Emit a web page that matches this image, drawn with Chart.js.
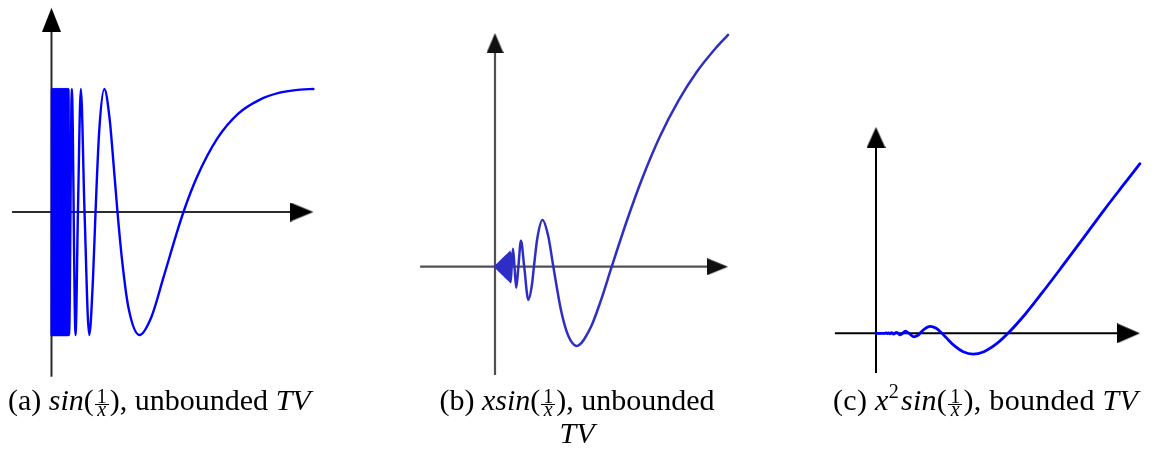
<!DOCTYPE html>
<html>
<head>
<meta charset="utf-8">
<script src="https://cdn.jsdelivr.net/npm/chart.js@4"></script>
<style>
  html, body { margin: 0; padding: 0; background: #fff; }
  body { width: 1154px; height: 452px; position: relative; overflow: hidden; }
  canvas { position: absolute; }
  .cap { position: absolute; font-family: "Liberation Serif", serif; font-size: 30px; line-height: 30px; color: #000; white-space: nowrap; }
  .cap i { font-style: italic; }
  .frac { display: inline-block; vertical-align: -6px; text-align: center; font-size: 20px; margin: 0 1px; }
  .frac span { display: block; padding: 0 2px; }
  .frac .num { line-height: 14px; border-bottom: 1px solid #000; padding-bottom: 1px; }
  .frac .den { line-height: 8px; font-style: italic; }
  .cap sup { font-size: 20px; line-height: 0; vertical-align: 12px; margin-right: 2px; }
</style>
</head>
<body>
<canvas id="plotA" width="340" height="385" style="left:0;top:0"></canvas>
<canvas id="plotB" width="345" height="385" style="left:405px;top:0"></canvas>
<canvas id="plotC" width="334" height="285" style="left:820px;top:100px"></canvas>

<div class="cap" style="left:8px;top:385px">(a) <i>sin</i>(<span class="frac"><span class="num">1</span><span class="den">x</span></span>), unbounded <i>TV</i></div>
<div class="cap" style="left:427px;top:383px;width:300px;text-align:center;line-height:33px">(b) <i>xsin</i>(<span class="frac"><span class="num">1</span><span class="den">x</span></span>), unbounded<br><i>TV</i></div>
<div class="cap" style="left:833px;top:385px;letter-spacing:0.3px">(c) <i>x</i><sup>2</sup><i>sin</i>(<span class="frac"><span class="num">1</span><span class="den">x</span></span>), bounded <i>TV</i></div>

<script>
// (a) sin(1/x): solid band of oscillation near 0, then the last few full waves
const sinX = [0.0003, 0.001, 0.002, 0.003, 0.004, 0.005, 0.006, 0.007, 0.008, 0.009, 0.010,
  0.011, 0.012, 0.013, 0.014, 0.015, 0.016, 0.017, 0.018, 0.019, 0.020, 0.021, 0.022, 0.023,
  0.024, 0.025, 0.026, 0.027, 0.028, 0.029, 0.030, 0.031, 0.032, 0.033, 0.034, 0.035, 0.036,
  0.037, 0.038, 0.039, 0.040, 0.041, 0.0424, 0.0490, 0.0579, 0.0637, 0.0707, 0.0796,
  0.0909, 0.100, 0.1061, 0.115, 0.1273, 0.140, 0.150, 0.159, 0.170, 0.185, 0.2122, 0.240,
  0.270, 0.300, 0.318, 0.350, 0.400, 0.450, 0.500, 0.550, 0.600, 0.631];
const sinY = [-1, 1, -1, 1, -1, 1, -1, 1, -1, 1, -1, 1, -1, 1, -1, 1, -1, 1, -1, 1, -1,
  1, -1, 1, -1, 1, -1, 1, -1, 1, -1, 1, -1, 1, -1, 1, -1, 1, -1, 1, -1, 1, -1,
  1, -1, 0, 1, 0, -1, -0.54, 0, 0.66, 1, 0.76, 0.37, 0, -0.39, -0.77, -1, -0.86, -0.53,
  -0.19, 0, 0.28, 0.60, 0.80, 0.91, 0.97, 0.995, 1];

// (b) x*sin(1/x): oscillations shrink into the origin
const xsinX = [0.0003, 0.001, 0.002, 0.003, 0.004, 0.005, 0.006, 0.007, 0.008, 0.009, 0.010,
  0.011, 0.012, 0.013, 0.014, 0.015, 0.016, 0.017, 0.018, 0.019, 0.020, 0.021, 0.022, 0.023,
  0.024, 0.025, 0.026, 0.027, 0.028, 0.029, 0.030, 0.031, 0.032, 0.033, 0.034, 0.035, 0.036,
  0.037, 0.038, 0.039, 0.040, 0.041, 0.0424, 0.0455, 0.0490, 0.0531, 0.0579, 0.0637,
  0.0707, 0.0796, 0.0909, 0.100, 0.1061, 0.115, 0.1294, 0.145, 0.159, 0.180, 0.200, 0.2225,
  0.260, 0.290, 0.318, 0.360, 0.400, 0.450, 0.500, 0.550, 0.600, 0.635];
const xsinY = [-0.0003, 0.001, -0.002, 0.003, -0.004, 0.005, -0.006, 0.007, -0.008, 0.009,
  -0.010, 0.011, -0.012, 0.013, -0.014, 0.015, -0.016, 0.017, -0.018, 0.019, -0.020, 0.021,
  -0.022, 0.023, -0.024, 0.025, -0.026, 0.027, -0.028, 0.029, -0.030, 0.031, -0.032, 0.033,
  -0.034, 0.035, -0.036, 0.037, -0.038, 0.039, -0.040, 0.041, -0.0424,
  0, 0.049, 0, -0.058, 0, 0.071, 0, -0.091, -0.054, 0, 0.076, 0.128, 0.084, 0, -0.12, -0.19,
  -0.217, -0.168, -0.088, 0, 0.128, 0.239, 0.358, 0.455, 0.534, 0.597, 0.635];

// (c) x^2*sin(1/x): wiggles flatten out near the origin
const x2sinX = [0, 0.020, 0.0255, 0.0277, 0.0303, 0.0335, 0.0374, 0.0424, 0.0455, 0.049,
  0.0531, 0.0579, 0.0637, 0.0707, 0.0796, 0.0909, 0.100, 0.1061, 0.115, 0.130, 0.145, 0.159,
  0.175, 0.190, 0.210, 0.234, 0.260, 0.290, 0.318, 0.360, 0.400, 0.450, 0.500, 0.550, 0.600, 0.636];
const x2sinY = [0, 0, 0.0007, -0.0008, 0.0009, -0.0011, 0.0014, -0.0018, 0, 0.0024, 0,
  -0.0034, 0, 0.005, 0, -0.0083, -0.0054, 0, 0.0088, 0.0167, 0.0122, 0, -0.0165, -0.0307,
  -0.044, -0.0496, -0.0438, -0.0254, 0, 0.046, 0.096, 0.161, 0.227, 0.294, 0.358, 0.404];

// axis extents [from, to] in data units, arrow tip at "to"
const axisXA = [-0.095, 0.631], axisYA = [-1.34, 1.66];
const axisXB = [-0.204, 0.635], axisYB = [-0.297, 0.640];
const axisXC = [-0.099, 0.636], axisYC = [-0.0945, 0.491];

// filled arrow head pointing right, tip sits at the image centre
function arrowHead(len, wid, color) {
    const c = document.createElement('canvas');
    c.width = len * 2;
    c.height = wid;
    const g = c.getContext('2d');
    g.fillStyle = color;
    g.beginPath();
    g.moveTo(0, 0);
    g.lineTo(len, wid / 2);
    g.lineTo(0, wid);
    g.closePath();
    g.fill();
    return c;
}

const toPts = (xs, ys) => xs.map((x, i) => ({ x: x, y: ys[i] }));

function drawPanel(id, p) {
    const cv = document.getElementById(id);
    const w = cv.width, h = cv.height;
    const xArrow = arrowHead(p.arrowX[0], p.arrowX[1], p.arrowColor);
    const yArrow = arrowHead(p.arrowY[0], p.arrowY[1], p.arrowColor);
    // stop the axis lines under the arrow heads
    const xEnd = p.axisX[1] - p.arrowX[0] * 0.5 / p.sx;
    const yEnd = p.axisY[1] - p.arrowY[0] * 0.5 / p.sy;

    new Chart(cv.getContext('2d'), {
        type: 'scatter',
        data: {
            datasets: [
                {
                    data: toPts(p.xs, p.ys),
                    showLine: true,
                    borderColor: p.color,
                    borderWidth: p.lineWidth,
                    pointRadius: 0,
                    cubicInterpolationMode: 'monotone',
                    borderJoinStyle: 'round',
                    borderCapStyle: 'round'
                },
                { data: [{ x: p.axisX[1], y: 0 }], pointStyle: xArrow, pointRotation: 0, pointRadius: 1 },
                { data: [{ x: 0, y: p.axisY[1] }], pointStyle: yArrow, pointRotation: -90, pointRadius: 1 },
                {
                    data: [{ x: p.axisX[0], y: 0 }, { x: xEnd, y: 0 }],
                    showLine: true, borderColor: p.axisColor, borderWidth: p.axisWidth, pointRadius: 0
                },
                {
                    data: [{ x: 0, y: p.axisY[0] }, { x: 0, y: yEnd }],
                    showLine: true, borderColor: p.axisColor, borderWidth: p.axisWidth, pointRadius: 0
                }
            ]
        },
        options: {
            responsive: false,
            animation: false,
            events: [],
            layout: { padding: 0, autoPadding: false },
            scales: {
                x: { type: 'linear', display: false, min: -p.ox / p.sx, max: (w - p.ox) / p.sx },
                y: { type: 'linear', display: false, min: -(h - p.oy) / p.sy, max: p.oy / p.sy }
            },
            plugins: { legend: { display: false }, tooltip: { enabled: false } }
        }
    });
}

drawPanel('plotA', {
    xs: sinX, ys: sinY, axisX: axisXA, axisY: axisYA,
    ox: 51.5, oy: 212, sx: 415, sy: 123,
    color: '#0000ff', lineWidth: 2.4,
    axisColor: '#2b2b2b', axisWidth: 2, arrowColor: '#000',
    arrowX: [23, 19], arrowY: [24, 19]
});
drawPanel('plotB', {
    xs: xsinX, ys: xsinY, axisX: axisXB, axisY: axisYB,
    ox: 90, oy: 266.7, sx: 367, sy: 365,
    color: '#2e2ec4', lineWidth: 2.5,
    axisColor: '#505050', axisWidth: 2.2, arrowColor: '#111',
    arrowX: [21, 17], arrowY: [20, 17]
});
drawPanel('plotC', {
    xs: x2sinX, ys: x2sinY, axisX: axisXC, axisY: axisYC,
    ox: 56, oy: 233.3, sx: 415, sy: 420,
    color: '#0000ff', lineWidth: 2.8,
    axisColor: '#000', axisWidth: 2, arrowColor: '#000',
    arrowX: [23, 20], arrowY: [21, 19]
});
</script>
</body>
</html>
